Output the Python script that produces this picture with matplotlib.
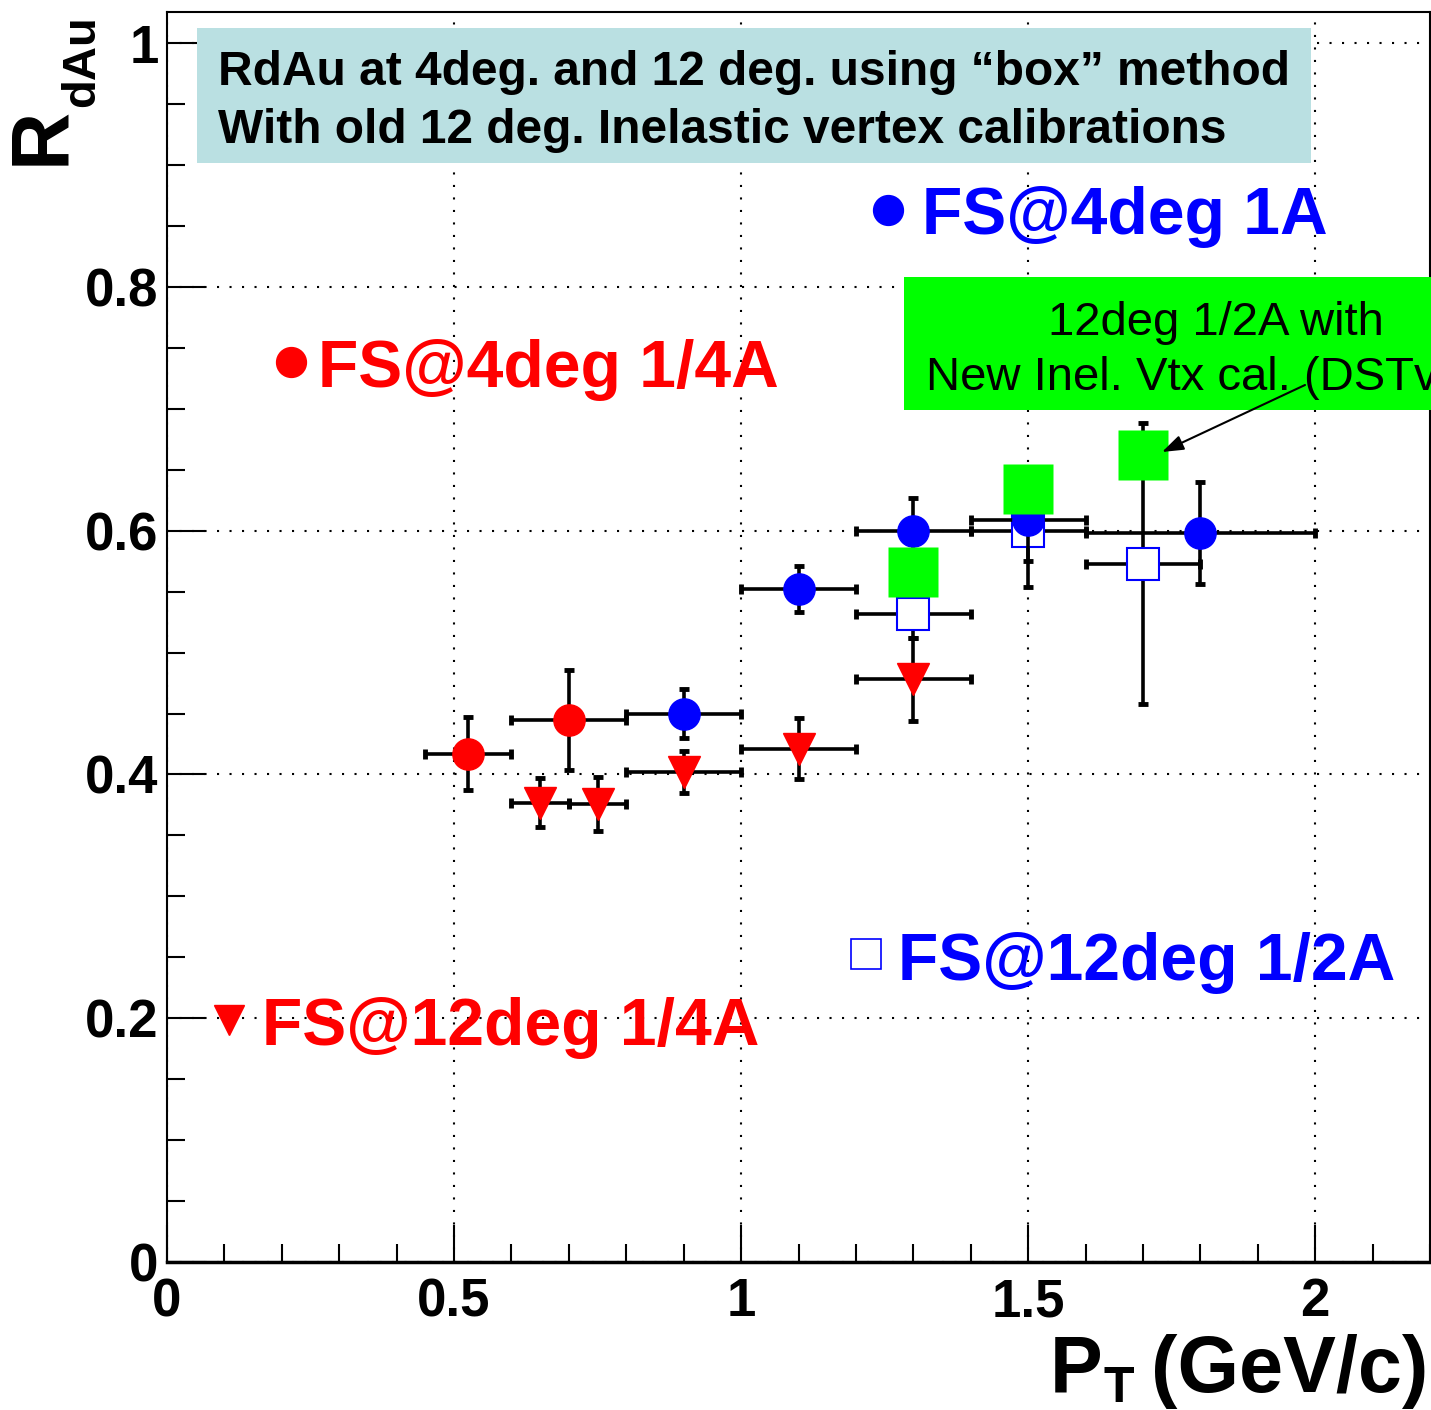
import numpy as np
import matplotlib.pyplot as plt
from matplotlib.patches import Rectangle, FancyArrowPatch
from matplotlib.ticker import MultipleLocator

plt.rcParams['font.family'] = ['Liberation Sans', 'DejaVu Sans']

## Data ===================================================
# FS @ 4deg 1/4A  (red full circles)
pt_4deg_q = [0.525, 0.70]
r_4deg_q = [0.417, 0.445]
ex_4deg_q = [0.075, 0.10]
ey_4deg_q = [0.030, 0.041]

# FS @ 4deg 1A  (blue full circles)
pt_4deg_1 = [0.9, 1.1, 1.3, 1.5, 1.8]
r_4deg_1 = [0.450, 0.552, 0.600, 0.609, 0.598]
ex_4deg_1 = [0.1, 0.1, 0.1, 0.1, 0.2]
ey_4deg_1 = [0.020, 0.019, 0.027, 0.034, 0.042]

# FS @ 12deg 1/4A  (red down triangles)
pt_12deg_q = [0.65, 0.75, 0.9, 1.1, 1.3]
r_12deg_q = [0.377, 0.376, 0.402, 0.421, 0.478]
ex_12deg_q = [0.05, 0.05, 0.1, 0.1, 0.1]
ey_12deg_q = [0.020, 0.022, 0.017, 0.025, 0.034]

# FS @ 12deg 1/2A  (blue open squares)
pt_12deg_h = [1.3, 1.5, 1.7]
r_12deg_h = [0.532, 0.600, 0.573]
ex_12deg_h = [0.1, 0.1, 0.1]
ey_12deg_h = [0.020, 0.046, 0.115]

# 12deg 1/2A with new inelastic vertex calibration (green squares)
pt_new = [1.3, 1.5, 1.7]
r_new = [0.566, 0.634, 0.662]

x_ticks = [0, 0.5, 1, 1.5, 2]
x_ticklabels = ['0', '0.5', '1', '1.5', '2']
y_ticks = [0, 0.2, 0.4, 0.6, 0.8, 1.0]
y_ticklabels = ['0', '0.2', '0.4', '0.6', '0.8', '1']

## Figure =================================================
W, H = 1431, 1410
def fxy(px, py):
    # pixel (from top-left) -> figure fraction
    return px / W, 1 - py / H

fig = plt.figure(figsize=(W / 100, H / 100), dpi=100)
ax = fig.add_axes([167 / W, 148 / H, 1263 / W, 1250 / H])
ax.set_xlim(0, 2.2)
ax.set_ylim(0, 1.0256)

ax.set_xticks(x_ticks)
ax.set_xticklabels(x_ticklabels, fontweight='bold')
ax.set_yticks(y_ticks)
ax.set_yticklabels(y_ticklabels, fontweight='bold')
ax.xaxis.set_minor_locator(MultipleLocator(0.1))
ax.yaxis.set_minor_locator(MultipleLocator(0.05))
ax.tick_params(which='both', direction='in', top=False, right=False, width=1.5)
ax.tick_params(which='major', length=27, labelsize=38)
ax.tick_params(axis='x', which='major', pad=11)
ax.tick_params(axis='y', which='major', pad=6)
ax.tick_params(which='minor', length=13)
for side in ['left', 'top', 'right']:
    ax.spines[side].set_linewidth(1.5)
ax.spines['bottom'].set_linewidth(2.5)

ax.set_axisbelow(True)
ax.grid(True, which='major', color='black', linestyle=(0, (1, 5)), linewidth=1.5)

# error bars + markers
eb = dict(fmt='none', ecolor='black', elinewidth=2.6, capsize=3.5, capthick=3.5)

ax.errorbar(pt_12deg_h, r_12deg_h, xerr=ex_12deg_h, yerr=ey_12deg_h, zorder=3, **eb)
ax.plot(pt_12deg_h, r_12deg_h, ls='none', marker='s', ms=23.5, mfc='white',
        mec='blue', mew=1.5, zorder=3.5)

ax.errorbar(pt_4deg_1, r_4deg_1, xerr=ex_4deg_1, yerr=ey_4deg_1, zorder=3.6, **eb)
ax.plot(pt_4deg_1, r_4deg_1, ls='none', marker='o', ms=22.5, color='blue', zorder=4)

ax.plot(pt_new, r_new, ls='none', marker='s', ms=36, mfc='#00ff00', mec='none', zorder=5)

ax.errorbar(pt_4deg_q, r_4deg_q, xerr=ex_4deg_q, yerr=ey_4deg_q, zorder=3, **eb)
ax.plot(pt_4deg_q, r_4deg_q, ls='none', marker='o', ms=22.5, color='red', zorder=4)

ax.errorbar(pt_12deg_q, r_12deg_q, xerr=ex_12deg_q, yerr=ey_12deg_q, zorder=3, **eb)
ax.plot(pt_12deg_q, r_12deg_q, ls='none', marker='v', ms=23.5, color='red', zorder=4)

# hand-placed legend entries (axes fraction)
def key(mx, my, tx, ty, label, tcolor, **mk):
    ax.plot([mx], [my], transform=ax.transAxes, ls='none', clip_on=False, **mk)
    ax.text(tx, ty, label, transform=ax.transAxes, color=tcolor, fontsize=47.5,
            fontweight='bold', ha='left', va='baseline', zorder=6)

key(0.571, 0.842, 0.598, 0.822, 'FS@4deg 1A', 'blue',
    marker='o', ms=21.5, color='blue')
key(0.098, 0.720, 0.1196, 0.700, 'FS@4deg 1/4A', 'red',
    marker='o', ms=21.5, color='red')
key(0.5534, 0.2464, 0.5788, 0.2256, 'FS@12deg 1/2A', 'blue',
    marker='s', ms=22, mfc='white', mec='blue', mew=1.2)
key(0.049, 0.1936, 0.0752, 0.1736, 'FS@12deg 1/4A', 'red',
    marker='v', ms=21, color='red')

# title box
x0, y0 = fxy(197, 163)
fig.add_artist(Rectangle((x0, y0), 1114 / W, 135 / H, transform=fig.transFigure,
                         facecolor='#bae0e2', edgecolor='none', zorder=1))
fig.text(*fxy(218, 85), 'RdAu at 4deg. and 12 deg. using \u201cbox\u201d method',
         fontsize=34.5, fontweight='bold', ha='left', va='baseline', zorder=2)
fig.text(*fxy(218, 143), 'With old 12 deg. Inelastic vertex calibrations',
         fontsize=34.5, fontweight='bold', ha='left', va='baseline', zorder=2)

# green note box + arrow
gx, gy = fxy(904, 410)
fig.add_artist(Rectangle((gx, gy), 1 - gx, 133 / H, transform=fig.transFigure,
                         facecolor='#00ff00', edgecolor='none', zorder=1))
fig.text(*fxy(1048, 335), '12deg 1/2A with', fontsize=34, ha='left', va='baseline', zorder=2)
fig.text(*fxy(926, 390), 'New Inel. Vtx cal. (DSTv', fontsize=34, ha='left',
         va='baseline', zorder=2)
fig.add_artist(FancyArrowPatch(fxy(1305, 385), fxy(1162, 452), transform=fig.transFigure,
                               arrowstyle='-|>,head_length=1.0,head_width=0.35',
                               mutation_scale=13, lw=1.5, color='black',
                               shrinkA=0, shrinkB=0, zorder=3))

# axis titles (ROOT style)
fig.text(*fxy(63, 165), 'R', rotation=90, rotation_mode='anchor', fontsize=58,
         fontweight='bold', ha='left', va='baseline')
fig.text(*fxy(94, 107), 'dAu', rotation=90, rotation_mode='anchor', fontsize=34,
         fontweight='bold', ha='left', va='baseline')
fig.text(*fxy(1050, 1392), 'P', fontsize=57, fontweight='bold', ha='left', va='baseline')
fig.text(*fxy(1104, 1402), 'T', fontsize=36, fontweight='bold', ha='left', va='baseline')
fig.text(*fxy(1428, 1392), '(GeV/c)', fontsize=57, fontweight='bold', ha='right',
         va='baseline')

plt.savefig('out.png', dpi=100)
